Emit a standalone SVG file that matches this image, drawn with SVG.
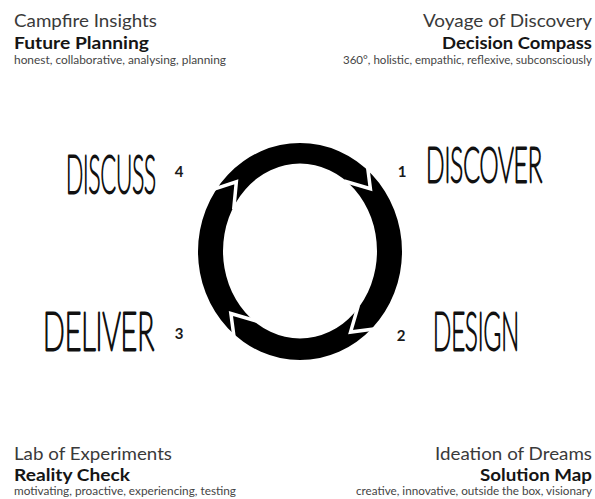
<svg xmlns="http://www.w3.org/2000/svg" width="595" height="499" viewBox="0 0 595 499">
  <style>
    .title { font-family: Lato, "Noto Sans", sans-serif; font-size: 18px; fill: #3a3a3a; }
    .head  { font-family: Lato, "Noto Sans", sans-serif; font-size: 17.5px; font-weight: 700; fill: #151515; }
    .note  { font-family: Lato, "Noto Sans", sans-serif; font-size: 11px; fill: #454545; }
    .hand  { font-family: Lato, "DejaVu Sans", sans-serif; font-weight: 100; font-size: 51px; fill: #111; stroke: #111; stroke-width: 2.3; stroke-linejoin: round; stroke-linecap: round; vector-effect: non-scaling-stroke; }
    .num   { font-family: Lato, "Noto Sans", sans-serif; font-size: 15px; font-weight: 700; fill: #1a1a1a; text-anchor: middle; }
    .cut   { fill: none; stroke: #fff; stroke-width: 3.5; stroke-linejoin: miter; stroke-miterlimit: 10; }
  </style>
  <defs>
    <!-- chevron-shaped break in the ring, pointing along the direction of travel -->
    <polyline id="chev" points="-17,-15 6,0 -17,15"/>
  </defs>

  <rect width="595" height="499" fill="#fff"/>

  <!-- corner panels -->
  <g id="campfire-insights">
    <text class="title" x="14" y="27" textLength="143" lengthAdjust="spacingAndGlyphs">Campfire Insights</text>
    <text class="head" x="14" y="49" textLength="135" lengthAdjust="spacingAndGlyphs">Future Planning</text>
    <text class="note" x="14" y="64" textLength="212" lengthAdjust="spacingAndGlyphs">honest, collaborative, analysing, planning</text>
  </g>
  <g id="voyage-of-discovery">
    <text class="title" x="423" y="27" textLength="169" lengthAdjust="spacingAndGlyphs">Voyage of Discovery</text>
    <text class="head" x="442" y="49" textLength="150" lengthAdjust="spacingAndGlyphs">Decision Compass</text>
    <text class="note" x="343" y="64" textLength="249" lengthAdjust="spacingAndGlyphs">360°, holistic, empathic, reflexive, subconsciously</text>
  </g>
  <g id="lab-of-experiments">
    <text class="title" x="14" y="460" textLength="158" lengthAdjust="spacingAndGlyphs">Lab of Experiments</text>
    <text class="head" x="14" y="481" textLength="116" lengthAdjust="spacingAndGlyphs">Reality Check</text>
    <text class="note" x="14" y="495" textLength="222" lengthAdjust="spacingAndGlyphs">motivating, proactive, experiencing, testing</text>
  </g>
  <g id="ideation-of-dreams">
    <text class="title" x="435" y="460" textLength="157" lengthAdjust="spacingAndGlyphs">Ideation of Dreams</text>
    <text class="head" x="480" y="481" textLength="112" lengthAdjust="spacingAndGlyphs">Solution Map</text>
    <text class="note" x="356" y="495" textLength="236" lengthAdjust="spacingAndGlyphs">creative, innovative, outside the box, visionary</text>
  </g>

  <!-- cycle ring with four clockwise arrow breaks -->
  <g id="connectors">
    <path fill="#000" fill-rule="evenodd"
      d="M198,251.5 a102,108.5 0 1,0 204,0 a102,108.5 0 1,0 -204,0 Z
         M223,251 a77,87.5 0 1,0 154,0 a77,87.5 0 1,0 -154,0 Z"/>
    <use href="#chev" class="cut" transform="translate(366.5,184.2) rotate(49.6)"/>
    <use href="#chev" class="cut" transform="translate(355.1,328.2) rotate(139.4)"/>
    <use href="#chev" class="cut" transform="translate(234.8,318.1) rotate(229.3)"/>
    <use href="#chev" class="cut" transform="translate(232.6,186.5) rotate(308.6)"/>
  </g>

  <!-- phases -->
  <g id="discover">
    <text class="hand" transform="translate(426,182) scale(0.5,0.95)" textLength="232" lengthAdjust="spacingAndGlyphs">DISCOVER</text>
    <text class="num" x="402" y="177">1</text>
  </g>
  <g id="design">
    <text class="hand" transform="translate(433,350) scale(0.5,1)" textLength="172" lengthAdjust="spacingAndGlyphs">DESIGN</text>
    <text class="num" x="401" y="341">2</text>
  </g>
  <g id="deliver">
    <text class="hand" transform="translate(43,350) scale(0.5,1)" textLength="222" lengthAdjust="spacingAndGlyphs">DELIVER</text>
    <text class="num" x="179" y="339">3</text>
  </g>
  <g id="discuss">
    <text class="hand" transform="translate(66,193) scale(0.5,1.02)" textLength="180" lengthAdjust="spacingAndGlyphs">DISCUSS</text>
    <text class="num" x="179" y="177">4</text>
  </g>
</svg>
